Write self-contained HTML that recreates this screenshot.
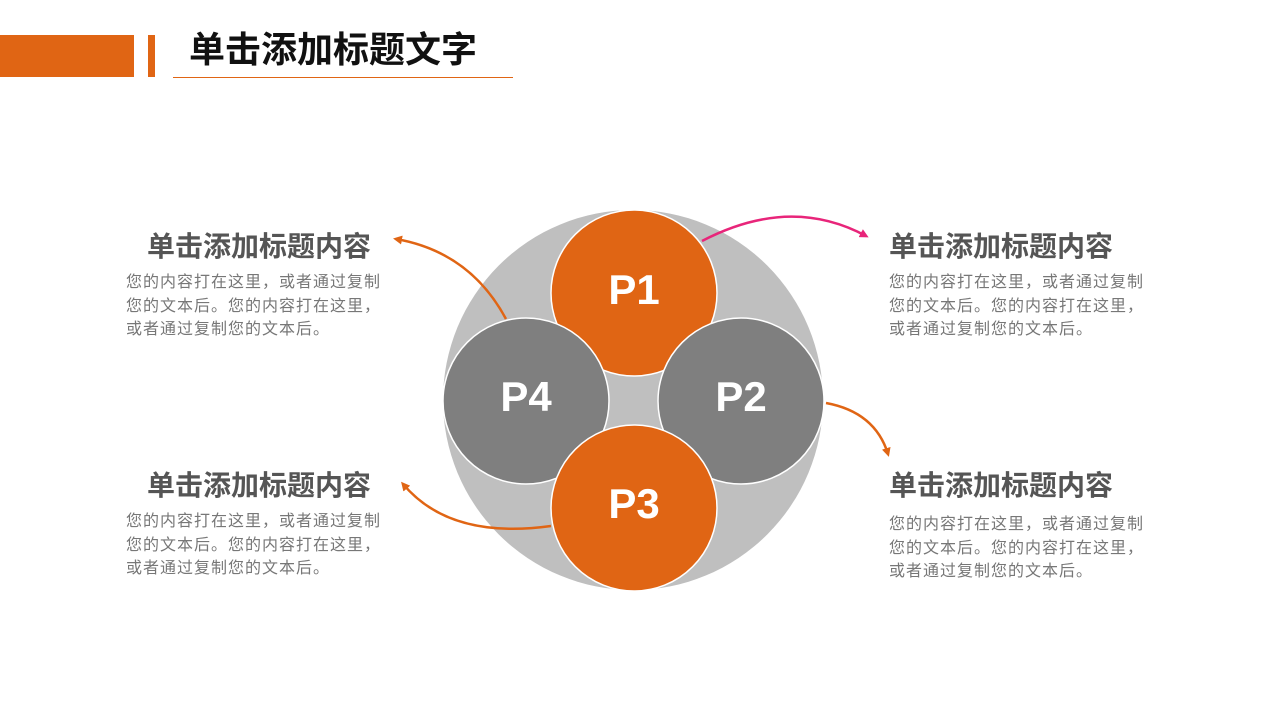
<!DOCTYPE html>
<html><head><meta charset="utf-8"><style>
body{margin:0;width:1280px;height:720px;background:#fff;position:relative;overflow:hidden;font-family:"Liberation Sans","Noto Sans CJK SC",sans-serif}
.a{position:absolute}
.h{font-size:28px;font-weight:bold;color:#555;white-space:nowrap;line-height:30px}
.b{font-size:16px;letter-spacing:1px;color:#777;line-height:23.5px;white-space:nowrap}
</style></head><body>
<div class="a" style="left:0;top:35px;width:134px;height:42px;background:#e06514"></div>
<div class="a" style="left:148px;top:35px;width:7px;height:42px;background:#e06514"></div>
<div class="a" style="left:189px;top:27px;font-size:36px;font-weight:bold;color:#111;line-height:46px">单击添加标题文字</div>
<div class="a" style="left:173px;top:77px;width:340px;height:1px;background:#e06514"></div>

<svg class="a" style="left:0;top:0" width="1280" height="720">
<defs>
<marker id="mo" markerUnits="userSpaceOnUse" markerWidth="9" markerHeight="9" refX="6" refY="4.5" orient="auto"><path d="M0,0 L9,4.5 L0,9 Z" fill="#e06514"/></marker>
<marker id="mp" markerUnits="userSpaceOnUse" markerWidth="9" markerHeight="9" refX="6" refY="4.5" orient="auto"><path d="M0,0 L9,4.5 L0,9 Z" fill="#e8257a"/></marker>
</defs>
<circle cx="633" cy="400" r="190" fill="#bfbfbf"/>
<circle cx="634" cy="293" r="83" fill="#e06514" stroke="#fff" stroke-width="1.5"/>
<circle cx="741" cy="401" r="83" fill="#7f7f7f" stroke="#fff" stroke-width="1.5"/>
<circle cx="526" cy="401" r="83" fill="#7f7f7f" stroke="#fff" stroke-width="1.5"/>
<circle cx="634" cy="508" r="83" fill="#e06514" stroke="#fff" stroke-width="1.5"/>
<g font-family="Liberation Sans, sans-serif" font-weight="bold" font-size="42" fill="#fff" text-anchor="middle">
<text x="634" y="304">P1</text><text x="741" y="411">P2</text><text x="526" y="411">P4</text><text x="634" y="518">P3</text></g>
<path d="M702,241 Q790,195 866,236" fill="none" stroke="#e8257a" stroke-width="2.5" marker-end="url(#mp)"/>
<path d="M826,403 Q875,412 888,454" fill="none" stroke="#e06514" stroke-width="2.5" marker-end="url(#mo)"/>
<path d="M506,319 Q470,252 396,239" fill="none" stroke="#e06514" stroke-width="2.5" marker-end="url(#mo)"/>
<path d="M551,526 Q450,540 403,484" fill="none" stroke="#e06514" stroke-width="2.5" marker-end="url(#mo)"/>
</svg>

<div class="a h" style="left:147px;top:232px">单击添加标题内容</div>
<div class="a b" style="left:126px;top:271px">您的内容打在这里，或者通过复制<br>您的文本后。您的内容打在这里，<br>或者通过复制您的文本后。</div>
<div class="a h" style="left:147px;top:471px">单击添加标题内容</div>
<div class="a b" style="left:126px;top:510px">您的内容打在这里，或者通过复制<br>您的文本后。您的内容打在这里，<br>或者通过复制您的文本后。</div>
<div class="a h" style="left:889px;top:232px">单击添加标题内容</div>
<div class="a b" style="left:889px;top:271px">您的内容打在这里，或者通过复制<br>您的文本后。您的内容打在这里，<br>或者通过复制您的文本后。</div>
<div class="a h" style="left:889px;top:471px">单击添加标题内容</div>
<div class="a b" style="left:889px;top:513px">您的内容打在这里，或者通过复制<br>您的文本后。您的内容打在这里，<br>或者通过复制您的文本后。</div>
</body></html>
